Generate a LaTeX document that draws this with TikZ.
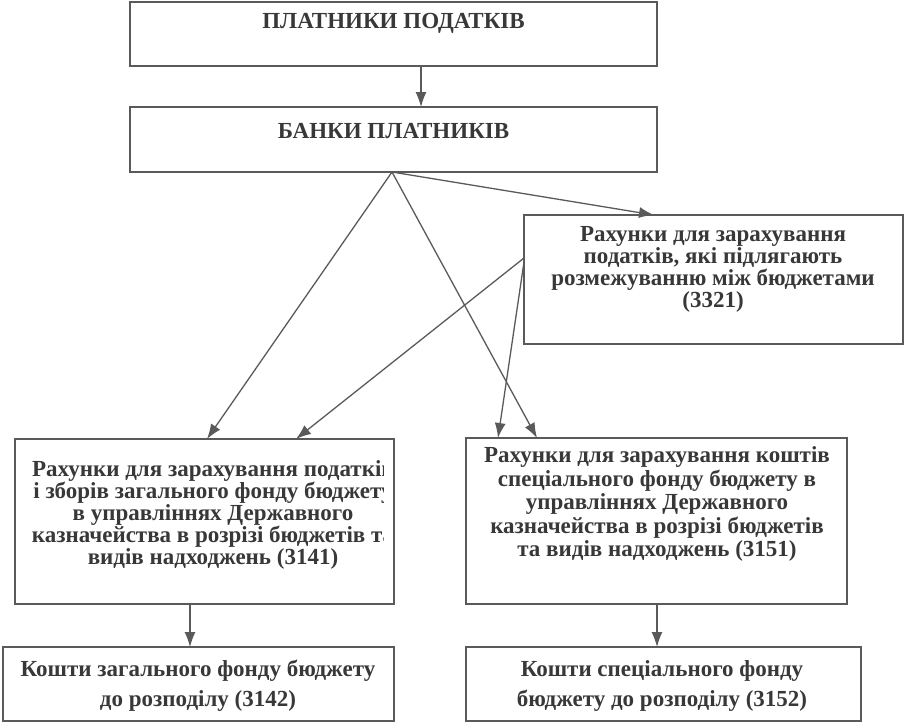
\documentclass[tikz,border=0pt]{standalone}
\usepackage{fontspec}
\setmainfont{Liberation Serif}
\usetikzlibrary{arrows.meta,calc}
\definecolor{ink}{HTML}{383838}
\definecolor{linegray}{HTML}{5A5A5A}
\begin{document}
\begin{tikzpicture}[x=1pt,y=-1pt,
  box/.style={draw=linegray, line width=1.5pt, inner sep=0pt, outer sep=0pt, anchor=north west},
  txt/.style={text=ink, font=\fontsize{23}{22}\selectfont\bfseries, align=center, inner sep=0pt},
  txts/.style={text=ink, font=\fontsize{23}{23.5}\selectfont\bfseries, align=center, inner sep=0pt},
  txtb/.style={text=ink, font=\fontsize{23}{30}\selectfont\bfseries, align=center, inner sep=0pt},
  arr/.style={draw=linegray, line width=1.3pt, -{Latex[length=15pt,width=11pt]}}]
\useasboundingbox (0,0) rectangle (905,725);
% boxes
\node[box, minimum width=527pt, minimum height=64pt] (b1) at (130,2) {};
\node[box, minimum width=527pt, minimum height=65pt] (b2) at (130,107) {};
\node[box, minimum width=379pt, minimum height=129pt] (r) at (524,215) {};
\node[box, minimum width=379pt, minimum height=165pt] (gl) at (15,439) {};
\node[box, minimum width=381pt, minimum height=166pt] (sp) at (466,438) {};
\node[box, minimum width=391pt, minimum height=74pt] (g2) at (3,647) {};
\node[box, minimum width=395pt, minimum height=74pt] (s2) at (466,647) {};
% texts
\node[txt] (t1) at (393.5,23) {ПЛАТНИКИ ПОДАТКІВ};
\node[txt] (t2) at (393.5,131) {БАНКИ ПЛАТНИКІВ};
\node[txt] (t3) at (713,269) {Рахунки для зарахування\\податків, які підлягають\\розмежуванню між бюджетами\\(3321)};
\begin{scope}
\clip (16,440) rectangle (383.5,603);
\node[txt] (tl) at (213,515) {Рахунки для зарахування податків\\і зборів загального фонду бюджету\\в управліннях Державного\\казначейства в розрізі бюджетів та\\видів надходжень (3141)};
\end{scope}
\node[txts] (ts) at (657,504) {Рахунки для зарахування коштів\\спеціального фонду бюджету в\\управліннях Державного\\казначейства в розрізі бюджетів\\та видів надходжень (3151)};
\node[txtb] (tg2) at (198,686) {Кошти загального фонду бюджету\\до розподілу (3142)};
\node[txtb] (ts2) at (662,686) {Кошти спеціального фонду\\бюджету до розподілу (3152)};
% connectors
\coordinate (o) at ([xshift=262pt]b2.south west);
\coordinate (rl1) at ([yshift=-43pt]r.north west);
\coordinate (rl2) at ([yshift=-47pt]r.north west);
\draw[arr] ([xshift=291pt]b1.south west) -- ([xshift=291pt]b2.north west);
\draw[arr] (o) -- ([xshift=192pt]gl.north west);
\draw[arr] (o) -- ([xshift=71pt]sp.north west);
\draw[arr] (o) -- ([xshift=130pt]r.north west);
\draw[arr] (rl1) -- ([xshift=281pt]gl.north west);
\draw[arr] (rl2) -- ([xshift=32pt]sp.north west);
\draw[arr] ([xshift=175pt]gl.south west) -- ([xshift=187pt]g2.north west);
\draw[arr] ([xshift=191pt]sp.south west) -- ([xshift=191pt]s2.north west);
\end{tikzpicture}
\end{document}
